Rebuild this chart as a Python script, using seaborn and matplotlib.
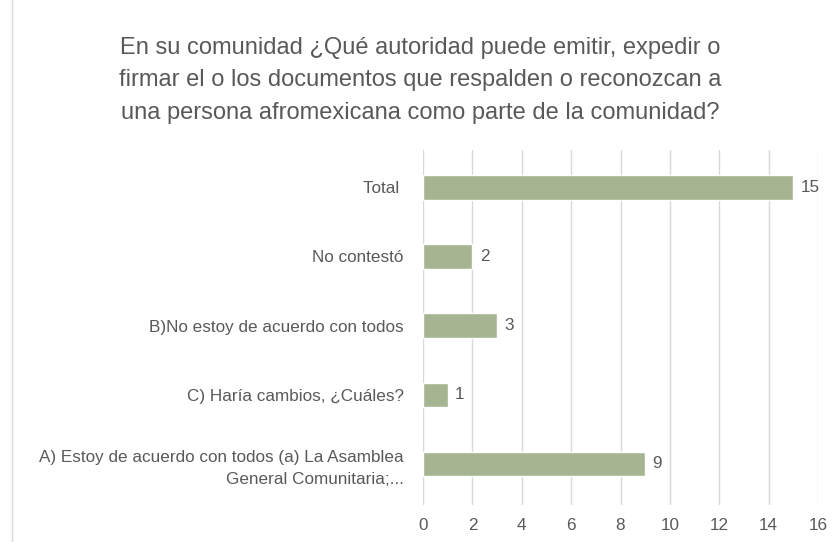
import matplotlib
matplotlib.use("Agg")
import matplotlib.pyplot as plt
import seaborn as sns
import pandas as pd

categorias = ["Total ", "No contestó", "B)No estoy de acuerdo con todos",
              "C) Haría cambios, ¿Cuáles?",
              "A) Estoy de acuerdo con todos (a) La Asamblea\nGeneral Comunitaria;..."]
valores = [15, 2, 3, 1, 9]
ticks_x = [0, 2, 4, 6, 8, 10, 12, 14, 16]

titulo = ("En su comunidad ¿Qué autoridad puede emitir, expedir o\n"
          "firmar el o los documentos que respalden o reconozcan a\n"
          "una persona afromexicana como parte de la comunidad?")

df = pd.DataFrame({"cat": categorias, "val": valores})

sns.set_style("white")
plt.rcParams['font.family'] = ['Liberation Sans', 'DejaVu Sans']

gris = "#595959"
fig = plt.figure(figsize=(8.4, 5.42), dpi=100)
ax = fig.add_axes([0.5036, 0.068, 0.4702, 0.655])

sns.barplot(data=df, x="val", y="cat", color="#A5B592", saturation=1,
            width=0.35, ax=ax, zorder=3)

ax.set_xlim(0, 16)
ax.set_ylim(4.6, -0.54)
ax.set_xticks(ticks_x)
ax.xaxis.grid(True, color="#D9D9D9", linewidth=1)
ax.set_axisbelow(True)
for s in ax.spines.values():
    s.set_visible(False)
ax.set_xlabel("")
ax.set_ylabel("")
ax.tick_params(axis="both", length=0, labelcolor=gris, labelsize=12.3)
ax.tick_params(axis="x", pad=9)
ax.tick_params(axis="y", pad=14)
for lbl in ax.get_yticklabels():
    lbl.set_horizontalalignment("right")
    lbl.set_multialignment("right")
    lbl.set_linespacing(1.6)

for i, v in enumerate(valores):
    ax.text(v + 0.3, i, str(v), va="center", ha="left", color=gris, fontsize=12.3)

fig.text(0.5, 0.932, titulo, ha="center", va="top", color=gris, fontsize=17,
         linespacing=1.62)

# borde del gráfico
fig.add_artist(plt.Rectangle((0.014, -0.01), 1.0, 1.02, transform=fig.transFigure,
                             fill=False, edgecolor="#D9D9D9", linewidth=1))

fig.savefig("out.png", dpi=100)
